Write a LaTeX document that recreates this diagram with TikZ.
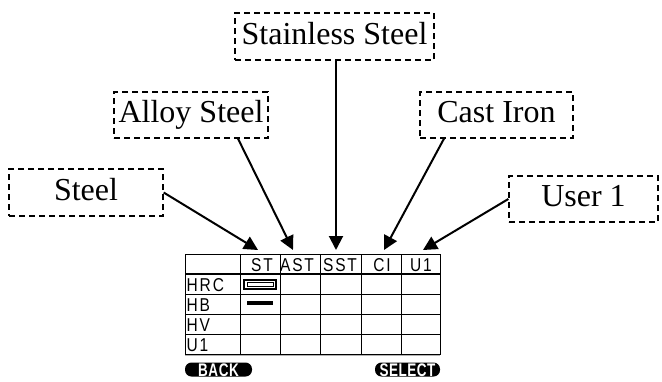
\documentclass[tikz,border=0pt]{standalone}
\usepackage{fontspec}
\setmainfont{Liberation Serif}
\newfontfamily\lcdfont[LetterSpace=12]{Liberation Sans}
\newfontfamily\keyfont[LetterSpace=4]{Liberation Sans}
\usetikzlibrary{arrows.meta}
\newcommand{\lcd}[1]{\scalebox{1}[1.2]{#1}}
\newcommand{\keytext}[1]{\scalebox{1}[1.35]{#1}}
\tikzset{
  label box/.style={draw, dashed, dash pattern=on 6pt off 4pt, line width=1.3pt,
    inner sep=0pt, minimum height=47pt, text height=22pt, text depth=7pt,
    font=\fontsize{32}{34}\selectfont},
  pointer/.style={line width=2pt, -{Triangle[length=14pt,width=14pt]}},
  gridline/.style={line width=1pt},
  cell text/.style={inner sep=0pt, font=\lcdfont\fontsize{15.5}{15.5}\selectfont, text height=13pt, text depth=0pt},
  softkey/.style={fill=black, rounded corners=6.5pt, inner sep=0pt, minimum height=14pt,
    text=white, font=\keyfont\bfseries\fontsize{13.5}{13.5}\selectfont, text height=13pt, text depth=0pt}
}
\begin{document}
\begin{tikzpicture}[x=1pt,y=-1pt]
\useasboundingbox (0,0) rectangle (662,381);
% label boxes
\node[label box, minimum width=199pt] (ss) at (334.5,36.5) {Stainless Steel};
\node[label box, minimum width=154pt, minimum height=46pt] (as) at (191,115) {Alloy Steel};
\node[label box, minimum width=153pt, minimum height=46pt] (ci) at (496.5,115) {Cast Iron};
\node[label box, minimum width=154pt] (st) at (86,192.5) {Steel};
\node[label box, minimum width=149pt, minimum height=46pt] (us) at (583.5,199) {User 1};
% arrow tips
\coordinate (tST) at (258,250);
\coordinate (tAST) at (293,250);
\coordinate (tSST) at (336,250);
\coordinate (tCI) at (384,250);
\coordinate (tU1) at (423,250);
\draw[pointer] (st.east) -- (tST);
\draw[pointer] ([xshift=47pt]as.south) -- (tAST);
\draw[pointer] ([xshift=1.5pt]ss.south) -- (tSST);
\draw[pointer] ([xshift=-52.5pt]ci.south) -- (tCI);
\draw[pointer] (us.west) -- (tU1);
% table grid
\draw[gridline] (185,254) rectangle (440,354);
\draw[line width=1.6pt] (185,274) -- (440,274);
\foreach \y in {294,314,334} \draw[gridline] (185,\y) -- (440,\y);
\foreach \x in {240,280,320,361,401} \draw[gridline] (\x,254) -- (\x,354);
\draw[gray!60, line width=0.8pt] (185,355.5) -- (440,355.5);
% header labels
\node[cell text] (hST) at (262,264.5) {\lcd{ST}};
\node[cell text] (hAST) at (297,264.5) {\lcd{AST}};
\node[cell text] (hSST) at (340,264.5) {\lcd{SST}};
\node[cell text] (hCI) at (382,264.5) {\lcd{CI}};
\node[cell text] (hU1) at (421,264.5) {\lcd{U1}};
% row labels
\node[cell text, anchor=west] (rHRC) at (186.5,284.5) {\lcd{HRC}};
\node[cell text, anchor=west] (rHB) at (186.5,304.5) {\lcd{HB}};
\node[cell text, anchor=west] (rHV) at (186.5,324.5) {\lcd{HV}};
\node[cell text, anchor=west] (rU1) at (186.5,344.5) {\lcd{U1}};
% cell widgets
\draw[line width=2pt] (244,280) rectangle (276,289);
\draw[line width=1pt] (247,282.5) rectangle (273,286.5);
\fill (247,301) rectangle (273,305);
% soft keys
\node[softkey, minimum width=67pt] (back) at (218.5,369.5) {\keytext{BACK}};
\node[softkey, minimum width=65pt] (select) at (407.5,369.5) {\keytext{SELECT}};
\end{tikzpicture}
\end{document}
